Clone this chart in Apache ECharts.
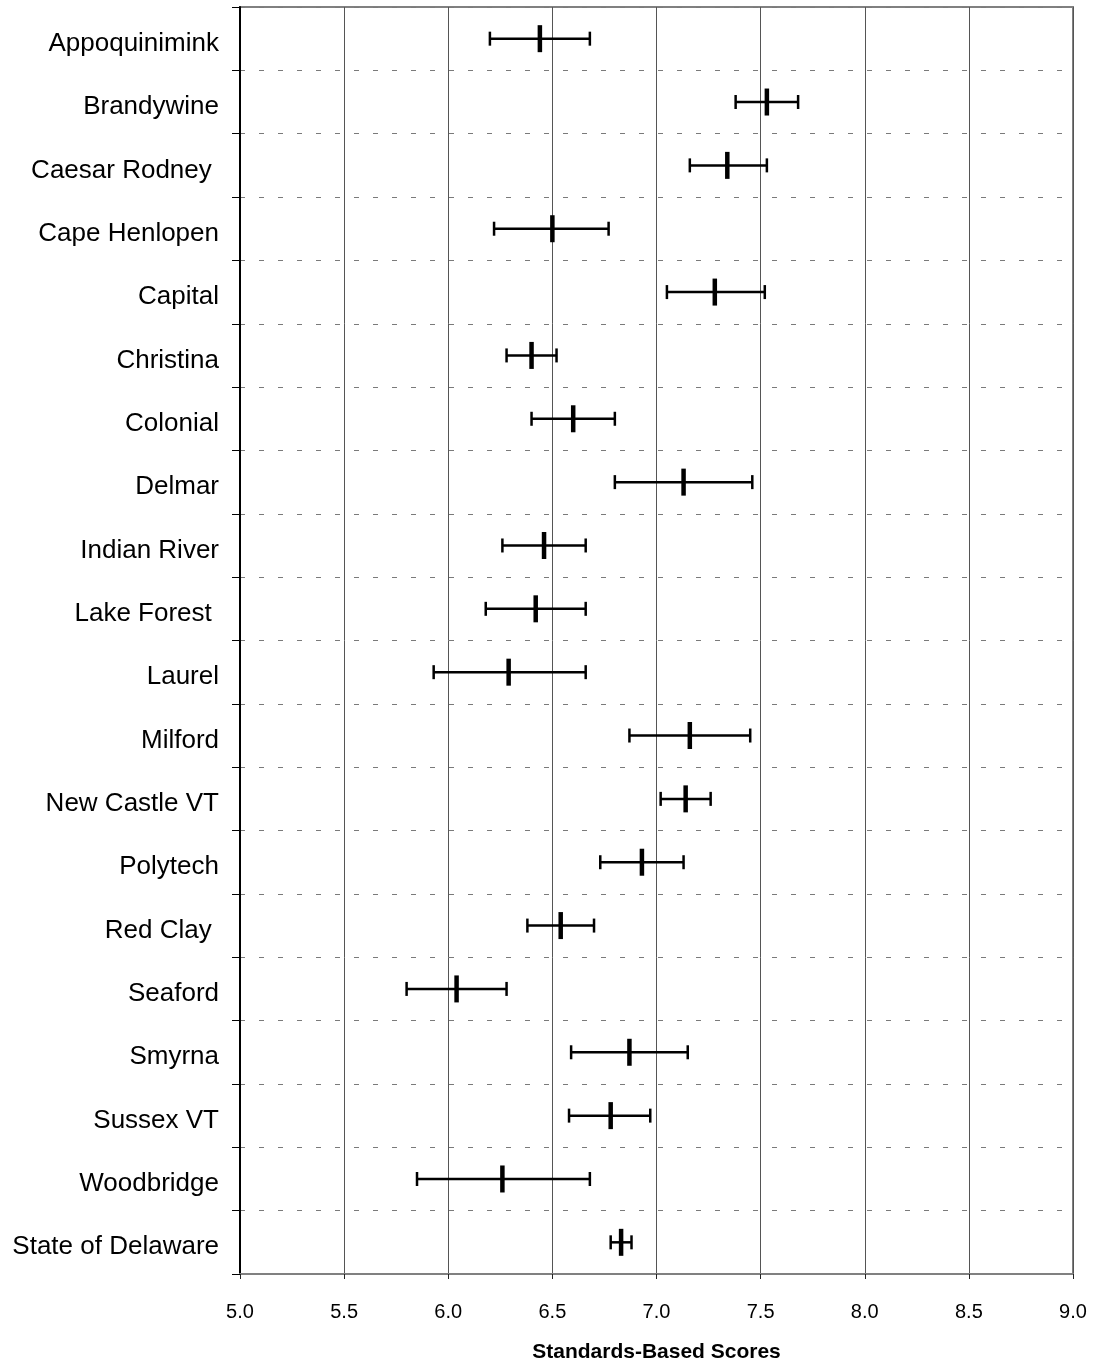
<!DOCTYPE html>
<html>
<head>
<meta charset="utf-8">
<script src="https://cdn.jsdelivr.net/npm/echarts@6/dist/echarts.min.js"></script>
<style>
html,body{margin:0;padding:0;background:#fff;}
#chart{width:1094px;height:1363px;}
</style>
</head>
<body>
<div id="chart"></div>
<script>
const categories = ["Appoquinimink","Brandywine","Caesar Rodney ","Cape Henlopen","Capital","Christina","Colonial","Delmar","Indian River","Lake Forest ","Laurel","Milford","New Castle VT","Polytech","Red Clay ","Seaford","Smyrna","Sussex VT","Woodbridge","State of Delaware"];
const lowValues  = [6.20,7.38,7.16,6.22,7.05,6.28,6.40,6.80,6.26,6.18,5.93,6.87,7.02,6.73,6.38,5.80,6.59,6.58,5.85,6.78];
const meanValues = [6.44,7.53,7.34,6.50,7.28,6.40,6.60,7.13,6.46,6.42,6.29,7.16,7.14,6.93,6.54,6.04,6.87,6.78,6.26,6.83];
const highValues = [6.68,7.68,7.53,6.77,7.52,6.52,6.80,7.46,6.66,6.66,6.66,7.45,7.26,7.13,6.70,6.28,7.15,6.97,6.68,6.88];
const xTicks = [5.0,5.5,6.0,6.5,7.0,7.5,8.0,8.5,9.0];

const rows = categories.map((c, i) => [i, lowValues[i], meanValues[i], highValues[i]]);
const FONT = 'Liberation Sans, Arial, sans-serif';

const chart = echarts.init(document.getElementById('chart'), null, {renderer: 'canvas'});
chart.setOption({
  animation: false,
  backgroundColor: '#ffffff',
  grid: {left: 240, right: 21, top: 7, bottom: 89, show: true, borderColor: '#808080', borderWidth: 2, containLabel: false, outerBoundsMode: 'none'},
  xAxis: {
    type: 'value', min: xTicks[0], max: xTicks[xTicks.length - 1], interval: 0.5,
    axisLine: {show: true, lineStyle: {color: '#808080', width: 2}},
    axisTick: {show: true, length: 5, lineStyle: {color: '#222', width: 1}},
    axisLabel: {margin: 28, fontSize: 20, color: '#000', fontFamily: FONT, formatter: v => v.toFixed(1)},
    splitLine: {show: true, lineStyle: {color: '#555', width: 1, type: 'solid'}},
    name: 'Standards-Based Scores', nameLocation: 'middle', nameGap: 68,
    nameTextStyle: {fontSize: 21, fontWeight: 'bold', color: '#000', fontFamily: FONT}
  },
  yAxis: {
    type: 'category', data: categories, inverse: true, boundaryGap: true,
    axisLine: {show: true, lineStyle: {color: '#000', width: 2}},
    axisTick: {show: true, length: 8, alignWithLabel: false, lineStyle: {color: '#000', width: 1}},
    axisLabel: {
      margin: 21, fontSize: 26, color: '#000', fontFamily: FONT,
      formatter: v => '{t|' + v + '}',
      rich: {t: {fontSize: 26, color: '#000', fontFamily: FONT, padding: [10, 0, 0, 0]}}
    },
    splitLine: {show: true, lineStyle: {color: '#7a7a7a', width: 1, type: [5, 14]}}
  },
  series: [{
    type: 'custom',
    data: rows,
    encode: {x: [1, 2, 3], y: 0},
    renderItem: function (params, api) {
      const cat = api.value(0);
      const pL = api.coord([api.value(1), cat]);
      const pM = api.coord([api.value(2), cat]);
      const pH = api.coord([api.value(3), cat]);
      const st = {stroke: '#000', lineWidth: 2.5};
      return {
        type: 'group',
        children: [
          {type: 'line', shape: {x1: pL[0], y1: pL[1], x2: pH[0], y2: pH[1]}, style: st},
          {type: 'line', shape: {x1: pL[0], y1: pL[1] - 7, x2: pL[0], y2: pL[1] + 7}, style: st},
          {type: 'line', shape: {x1: pH[0], y1: pH[1] - 7, x2: pH[0], y2: pH[1] + 7}, style: st},
          {type: 'rect', shape: {x: pM[0] - 2.25, y: pM[1] - 13.5, width: 4.5, height: 27}, style: {fill: '#000'}}
        ]
      };
    }
  }]
});
</script>
</body>
</html>
